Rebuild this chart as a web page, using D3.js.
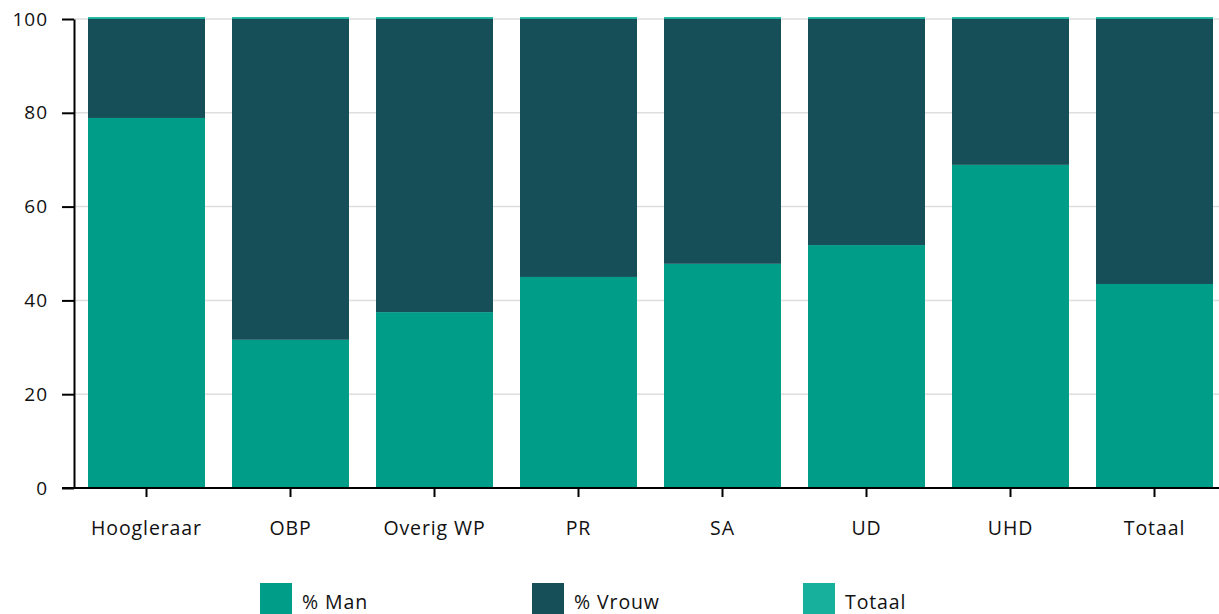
<!DOCTYPE html>
<html><head><meta charset="utf-8">
<script src="https://cdn.jsdelivr.net/npm/d3@7"></script>
<style>body{margin:0;background:#fff}svg{display:block}text{font-family:"Open Sans",sans-serif}</style>
</head><body><svg id="c" width="1219" height="614"></svg>
<script>
const categories = ["Hoogleraar","OBP","Overig WP","PR","SA","UD","UHD","Totaal"];
const man = [78.9, 31.6, 37.5, 45.0, 47.8, 51.8, 68.9, 43.5];
const vrouw = [21.1, 68.4, 62.5, 55.0, 52.2, 48.2, 31.1, 56.5];
const totaal = [0.4, 0.4, 0.4, 0.4, 0.4, 0.4, 0.4, 0.4];
const seriesNames = ["% Man","% Vrouw","Totaal"];
const colors = ["#009d89","#164f58","#16b09c"];
const yTicks = [0,20,40,60,80,100];

const svg = d3.select("#c");
const x = d3.scaleBand().domain(categories).range([74.5,1226.5]).paddingInner(0.1875).paddingOuter(0.09375);
const y = d3.scaleLinear().domain([0,100]).range([488,19]);

const rows = categories.map((c,i)=>({cat:c, m:man[i], v:vrouw[i], t:totaal[i]}));
const stack = d3.stack().keys(["m","v","t"])(rows);

// grid
svg.append("g").selectAll("line").data(yTicks).join("line")
  .attr("x1",74).attr("x2",1219).attr("y1",d=>y(d)).attr("y2",d=>y(d))
  .attr("stroke","#dedede").attr("stroke-width",1.5);

// bars
svg.append("g").selectAll("g").data(stack).join("g").attr("fill",(d,i)=>colors[i])
  .selectAll("rect").data(d=>d).join("rect")
  .attr("x",d=>x(d.data.cat)).attr("width",x.bandwidth())
  .attr("y",d=>y(d[1])).attr("height",d=>y(d[0])-y(d[1]));

// y axis
const ya = svg.append("g").attr("transform","translate(74,0)")
  .call(d3.axisLeft(y).tickValues(yTicks).tickSize(12).tickSizeOuter(0).tickPadding(14));
ya.select(".domain").attr("stroke","#000").attr("stroke-width",2);
ya.selectAll(".tick line").attr("stroke","#000").attr("stroke-width",2);
ya.selectAll("text").attr("font-size",19).attr("letter-spacing",1).attr("fill","#111");

// x axis
const xa = svg.append("g").attr("transform","translate(0,488)")
  .call(d3.axisBottom(x).tickSize(9).tickSizeOuter(0).tickPadding(24));
xa.select(".domain").attr("stroke","#000").attr("stroke-width",2).attr("d","M62,0H1219");
xa.selectAll(".tick line").attr("stroke","#000").attr("stroke-width",2);
xa.selectAll("text").attr("font-size",19.5).attr("letter-spacing",0.9).attr("fill","#111");

// legend
const lx = [260,532,803];
const lg = svg.append("g").selectAll("g").data(seriesNames).join("g")
  .attr("transform",(d,i)=>`translate(${lx[i]},583)`);
lg.append("rect").attr("width",32).attr("height",32).attr("fill",(d,i)=>colors[i]);
lg.append("text").attr("x",42).attr("y",26).attr("font-size",19.5).attr("letter-spacing",0.9).attr("fill","#111").text(d=>d);
</script></body></html>
